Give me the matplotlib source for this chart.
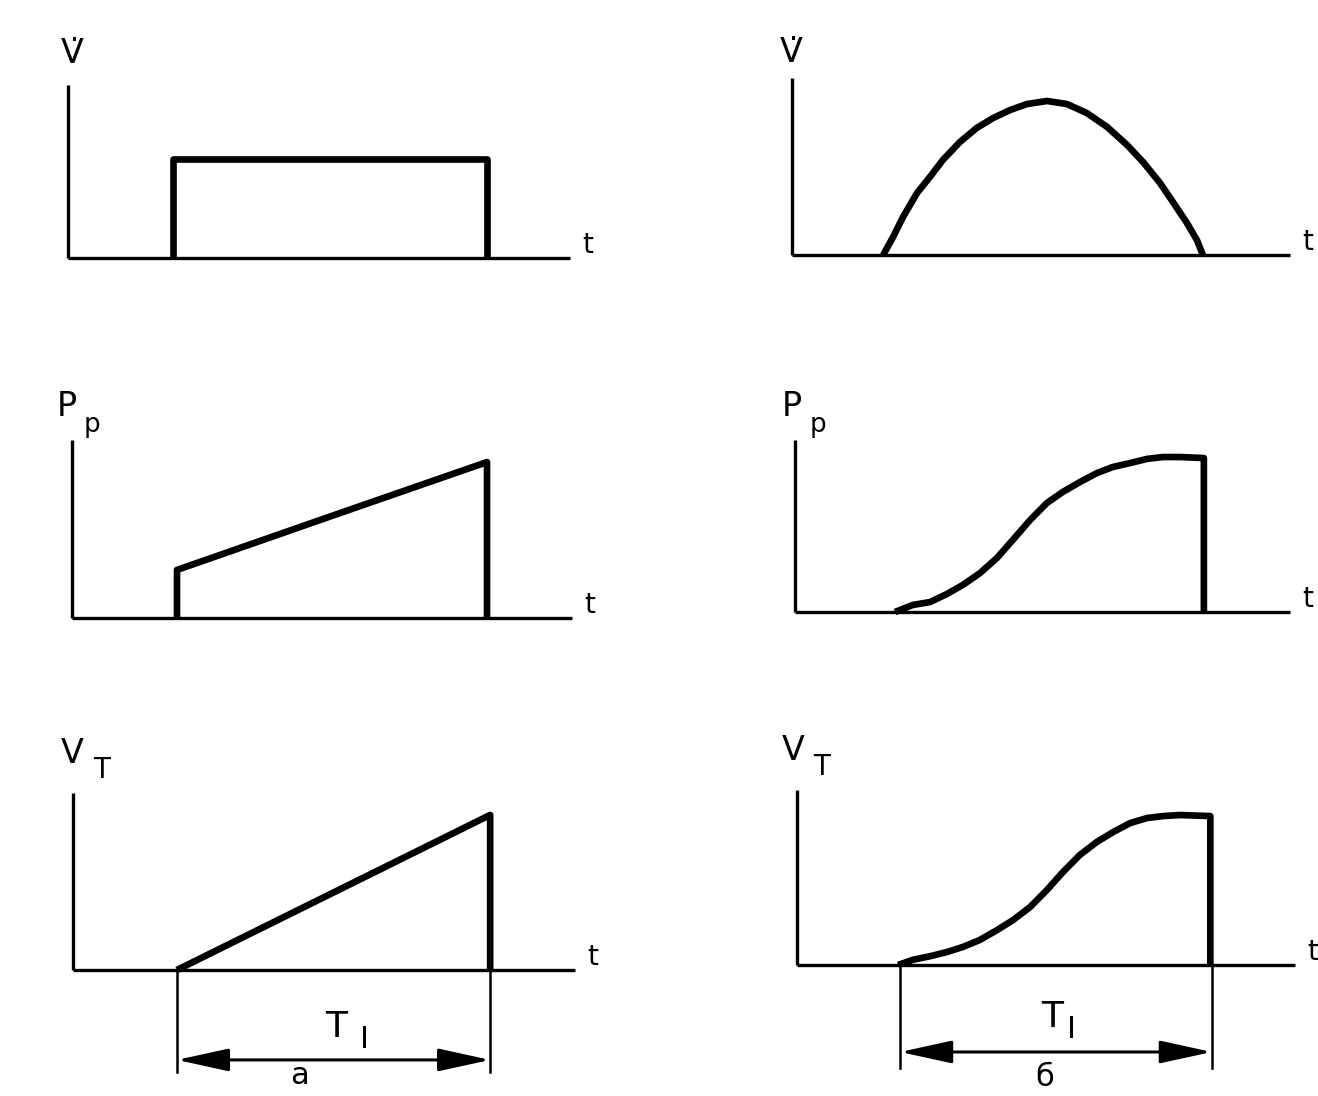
import matplotlib
matplotlib.use("Agg")
import matplotlib.pyplot as plt

W, H = 1318, 1096
DPI = 100

# ---------------- data (t in relative units 0..10, y relative 0..1) ----------------
# panel a) top: flow rate, rectangular pulse
a_vdot_t = [2.1, 2.1, 8.35, 8.35]
a_vdot_y = [0.0, 0.57, 0.57, 0.0]

# panel б) top: flow rate, bell shaped
b_vdot_t = [1.83, 2.03, 2.23, 2.51, 2.77, 3.03, 3.37, 3.71, 4.04, 4.38, 4.72, 5.12,
            5.52, 5.92, 6.33, 6.73, 7.05, 7.39, 7.65, 7.93, 8.13, 8.25]
b_vdot_y = [0.0, 0.102, 0.215, 0.350, 0.441, 0.537, 0.638, 0.718, 0.774, 0.819, 0.853, 0.870,
            0.853, 0.802, 0.723, 0.621, 0.525, 0.407, 0.299, 0.181, 0.085, 0.0]

# panel a) middle: pressure
a_p_t = [2.1, 2.1, 5.16, 8.3, 8.3]
a_p_y = [0.0, 0.27, 0.57, 0.876, 0.0]

# panel б) middle: pressure
b_p_t = [2.02, 2.38, 2.73, 3.07, 3.39, 3.74, 4.08, 4.40, 4.75, 5.09, 5.41, 5.76,
         6.10, 6.42, 6.77, 7.11, 7.43, 7.78, 8.26, 8.26]
b_p_y = [0.0, 0.041, 0.058, 0.105, 0.157, 0.227, 0.314, 0.419, 0.535, 0.634, 0.698, 0.756,
         0.808, 0.843, 0.866, 0.890, 0.901, 0.901, 0.895, 0.0]

# panel a) bottom: volume
a_v_t = [2.07, 8.31, 8.31]
a_v_y = [0.0, 0.876, 0.0]

# panel б) bottom: volume
b_v_t = [2.03, 2.33, 2.67, 3.01, 3.33, 3.67, 4.02, 4.34, 4.68, 5.02, 5.34, 5.68,
         6.02, 6.35, 6.69, 7.03, 7.35, 7.69, 8.30, 8.30]
b_v_y = [0.0, 0.030, 0.050, 0.074, 0.103, 0.143, 0.200, 0.257, 0.331, 0.429, 0.531, 0.629,
         0.703, 0.760, 0.811, 0.840, 0.851, 0.857, 0.851, 0.0]

# inspiration time interval (start, end) for bottom panels
a_ti = [2.07, 8.31]
b_ti = [2.07, 8.33]

# ---------------- layout (pixel geometry of each panel) ----------------
# (x0, y0, x_end, y_top) of axis lines in image pixels
panels = {
    "a_top": (68, 258, 570, 85),
    "b_top": (792, 255, 1290, 78),
    "a_mid": (72, 618, 572, 440),
    "b_mid": (795, 612, 1290, 440),
    "a_bot": (73, 970, 575, 793),
    "b_bot": (797, 965, 1295, 790),
}

fig = plt.figure(figsize=(W / DPI, H / DPI), dpi=DPI)
fig.patch.set_facecolor("white")

AX_LW = 2.4
CURVE_LW = 4.8
FONT = "DejaVu Sans"


def make_ax(key):
    x0, y0, xe, yt = panels[key]
    ax = fig.add_axes([x0 / W, (H - y0) / H, (xe - x0) / W, (y0 - yt) / H])
    ax.set_xlim(0, 10)
    ax.set_ylim(0, 1)
    ax.axis("off")
    ax.plot([0, 0], [1, 0], color="black", lw=AX_LW, clip_on=False, solid_capstyle="butt")
    ax.plot([0, 10], [0, 0], color="black", lw=AX_LW, clip_on=False, solid_capstyle="butt")
    ax.text(10.35, 0.03, "t", fontsize=20, family=FONT, ha="center", va="baseline", clip_on=False)
    return ax


def label(ax, txt, t, y, size):
    ax.text(t, y, txt, fontsize=size, family=FONT, ha="center", va="baseline", clip_on=False)


def curve(ax, t, y):
    ax.plot(t, y, color="black", lw=CURVE_LW, clip_on=False,
            solid_joinstyle="round", solid_capstyle="butt")


def dimension(ax, ti, ext_y, arr_y, T_pos, I_pos, letter=None, letter_pos=None):
    for xv in ti:
        ax.plot([xv, xv], [0, ext_y], color="black", lw=1.8, clip_on=False)
    ax.annotate("", xy=(ti[0], arr_y), xytext=(ti[1], arr_y), xycoords="data",
                arrowprops=dict(arrowstyle="<|-|>,head_length=3.2,head_width=0.7",
                                lw=2.2, color="black", shrinkA=0, shrinkB=0),
                annotation_clip=False)
    label(ax, "T", T_pos[0], T_pos[1], 26)
    label(ax, "I", I_pos[0], I_pos[1], 22)
    if letter:
        label(ax, letter, letter_pos[0], letter_pos[1], 22)


# top row
ax = make_ax("a_top")
curve(ax, a_vdot_t, a_vdot_y)
label(ax, "V\u0307", 0.08, 1.127, 24)

ax = make_ax("b_top")
curve(ax, b_vdot_t, b_vdot_y)
label(ax, "V\u0307", -0.02, 1.09, 24)

# middle row
ax = make_ax("a_mid")
curve(ax, a_p_t, a_p_y)
label(ax, "P", -0.1, 1.135, 24)
label(ax, "\u0440", 0.4, 1.045, 19)

ax = make_ax("b_mid")
curve(ax, b_p_t, b_p_y)
label(ax, "P", -0.06, 1.14, 24)
label(ax, "\u0440", 0.46, 1.047, 19)

# bottom row
ax = make_ax("a_bot")
curve(ax, a_v_t, a_v_y)
label(ax, "V", -0.02, 1.17, 24)
label(ax, "T", 0.56, 1.085, 20)
dimension(ax, a_ti, -0.576, -0.508, (5.24, -0.379), (5.8, -0.44),
          letter="\u0430", letter_pos=(4.52, -0.645))

ax = make_ax("b_bot")
curve(ax, b_v_t, b_v_y)
label(ax, "V", -0.08, 1.17, 24)
label(ax, "T", 0.5, 1.085, 20)
dimension(ax, b_ti, -0.589, -0.497, (5.12, -0.354), (5.52, -0.417),
          letter="\u0431", letter_pos=(4.98, -0.69))

fig.savefig("out.png", dpi=DPI, facecolor="white")
